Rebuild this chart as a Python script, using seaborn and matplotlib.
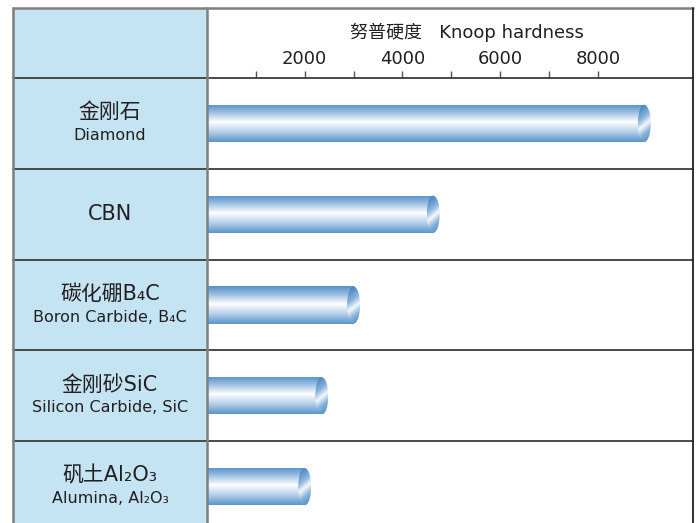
import numpy as np
import pandas as pd
import matplotlib
matplotlib.use("Agg")
import matplotlib.pyplot as plt
import seaborn as sns
from matplotlib.patches import Ellipse, Rectangle
from matplotlib.lines import Line2D
from matplotlib.colors import LinearSegmentedColormap

# --- data ---
names_cn = ["金刚石", "CBN", "碳化硼B₄C", "金刚砂SiC", "矾土Al₂O₃"]
names_en = ["Diamond", "", "Boron Carbide, B₄C", "Silicon Carbide, SiC", "Alumina, Al₂O₃"]
hardness = [8950, 4630, 3000, 2350, 2000]
tick_values = [1000, 2000, 3000, 4000, 5000, 6000, 7000, 8000]
tick_labels = ["", "2000", "", "4000", "", "6000", "", "8000"]

sns.set_theme(style="white")
plt.rcParams["font.family"] = ["DejaVu Sans", "Noto Sans CJK SC"]

W, H = 700, 523
fig = plt.figure(figsize=(7, 5.23), dpi=100)

# pixel helpers (origin top-left)
def fx(px):
    return px / W

def fy(py):
    return 1 - py / H

left_px, split_px, right_px = 13, 207, 693
top_px, header_px = 8, 78
row_h = 90.8

# left column background
fig.patches.append(Rectangle((fx(left_px), 0), fx(split_px) - fx(left_px), fy(top_px),
                             transform=fig.transFigure, facecolor="#c5e4f3",
                             edgecolor="none", zorder=0))

ax = fig.add_axes([fx(split_px), 0, fx(right_px) - fx(split_px), fy(header_px)])
df = pd.DataFrame({"material": names_en, "hardness": hardness})
df["key"] = range(len(df))
sns.barplot(data=df, x="hardness", y="key", orient="h", order=list(range(5)),
            width=0.41, color="#6a9fd0", ax=ax)

xmax = (right_px - split_px) / 48.86 * 1000

body_cmap = LinearSegmentedColormap.from_list(
    "tube", [(0, "#5590c8"), (0.2, "#95bbe0"), (0.47, "#ffffff"),
             (0.74, "#b3cfea"), (1, "#5a93c9")])
cap_cmap = LinearSegmentedColormap.from_list(
    "cap", [(0, "#4a86c0"), (0.3, "#8cb6dd"), (0.5, "#f4f8fc"),
            (0.7, "#8cb6dd"), (1, "#4a86c0")])
grad = np.linspace(0, 1, 200).reshape(-1, 1)
cap_w = 13 / 48.86 * 1000

for patch in list(ax.patches):
    x0, y0 = patch.get_x(), patch.get_y()
    w, h = patch.get_width(), patch.get_height()
    patch.set_facecolor("none")
    patch.set_edgecolor("none")
    im = ax.imshow(grad, extent=[x0, x0 + w, y0 + h, y0], aspect="auto",
                   cmap=body_cmap, zorder=2, interpolation="bilinear")
    im.set_clip_path(patch)
    cap = Ellipse((x0 + w, y0 + h / 2), cap_w, h, facecolor="none",
                  edgecolor="none", zorder=3)
    ax.add_patch(cap)
    gx = np.linspace(0, 1, 60)
    gy = np.linspace(0, 1, 200)
    cap_img = np.clip(gy[:, None] * 0.9 + (gx[None, :] - 0.5) * 0.25, 0, 1)
    ci = ax.imshow(cap_img, extent=[x0 + w - cap_w / 2, x0 + w + cap_w / 2, y0 + h, y0],
                   aspect="auto", cmap=cap_cmap, zorder=3, interpolation="bilinear")
    ci.set_clip_path(cap)

ax.set_xlim(0, xmax)
ax.set_ylim(4.9 - 0.5, -0.5)

ax.xaxis.tick_top()
ax.set_xticks(tick_values)
ax.set_xticklabels(tick_labels, fontsize=13, color="#231f20")
ax.tick_params(axis="x", direction="out", length=5, width=1, color="#555555",
               pad=2.5, top=True, bottom=False)
ax.set_yticks([])
ax.set_ylabel("")
ax.set_xlabel("努普硬度   Knoop hardness", fontsize=13, color="#231f20")
ax.xaxis.set_label_position("top")
ax.xaxis.set_label_coords((467 - split_px) / (right_px - split_px),
                          (H - 32.5) / (H - header_px))
ax.xaxis.label.set_va("center")
for s in ax.spines.values():
    s.set_visible(False)
ax.set_facecolor("none")

# category labels in the left column
cx = fx((left_px + split_px) / 2)
for i, (cn, en) in enumerate(zip(names_cn, names_en)):
    yc = header_px + row_h * (i + 0.5)
    if en:
        fig.text(cx, fy(yc - 11), cn, fontsize=15, ha="center", va="center", color="#231f20")
        fig.text(cx, fy(yc + 12), en, fontsize=11.5, ha="center", va="center", color="#231f20")
    else:
        fig.text(cx, fy(yc), cn, fontsize=15, ha="center", va="center", color="#231f20")

# table lines
def hline(py, x0, x1, color, lw):
    fig.add_artist(Line2D([fx(x0), fx(x1)], [fy(py), fy(py)], transform=fig.transFigure,
                          color=color, lw=lw, zorder=5))

def vline(px, y0, y1, color, lw):
    fig.add_artist(Line2D([fx(px), fx(px)], [fy(y0), fy(y1)], transform=fig.transFigure,
                          color=color, lw=lw, zorder=5))

hline(top_px, left_px, right_px, "#7f7f7f", 1.8)
for k in range(5):
    hline(header_px + row_h * k, left_px, right_px, "#3c3c3c", 1.3)
vline(left_px, top_px, H, "#7f7f7f", 1.8)
vline(split_px, top_px, H, "#7f7f7f", 1.8)
vline(right_px, top_px, H, "#231f20", 1.3)

fig.savefig("out.png", dpi=100)
